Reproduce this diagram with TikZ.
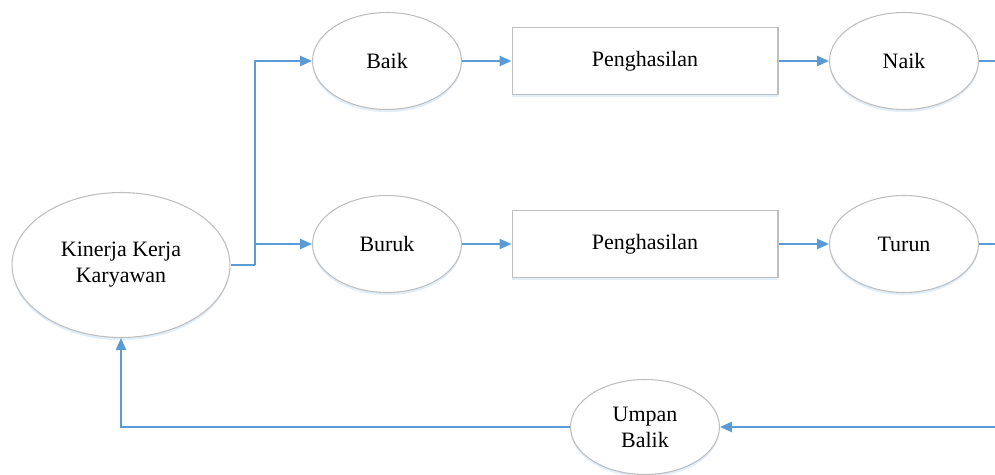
\documentclass[tikz,border=0pt]{standalone}
\usepackage{fontspec}
\setmainfont{Liberation Serif}
\usetikzlibrary{arrows.meta,shapes.geometric,shadows}
\definecolor{linkblue}{RGB}{91,155,213}
\definecolor{rimgray}{RGB}{190,190,190}

\begin{document}
\begin{tikzpicture}[x=0.02cm, y=-0.02cm,
    every node/.style={font=\fontsize{12.5}{14.8}\selectfont, align=center, inner sep=0pt},
    oval/.style={shape=ellipse, draw=rimgray, fill=white, line width=0.6pt,
        drop shadow={opacity=0.18, fill=linkblue, shadow xshift=0pt, shadow yshift=-1.5pt},
        minimum width=2.98cm, minimum height=1.94cm},
    box/.style={shape=rectangle, draw=rimgray, fill=white, line width=0.6pt,
        drop shadow={opacity=0.18, fill=linkblue, shadow xshift=0pt, shadow yshift=-1.5pt},
        minimum width=5.32cm, minimum height=1.34cm},
    link/.style={draw=linkblue, line width=1.1pt},
    arr/.style={link, -{Triangle[length=6.8pt, width=5.8pt]}}]
    \useasboundingbox (0,0) rectangle (995,475);

    \node[oval, minimum width=4.36cm, minimum height=2.9cm] (kinerja) at (121,265) {Kinerja Kerja\\Karyawan};
    \node[oval] (baik) at (387,61) {Baik};
    \node[oval] (buruk) at (387,244) {Buruk};
    \node[box] (hasil1) at (645,61) {Penghasilan};
    \node[box] (hasil2) at (645,244) {Penghasilan};
    \node[oval] (naik) at (904,61) {Naik};
    \node[oval] (turun) at (904,244) {Turun};
    \node[oval, minimum height=1.9cm] (umpan) at (645,427) {Umpan\\Balik};

    \coordinate (split) at (255,265);
    \coordinate (naikOut) at (995,61);
    \coordinate (turunOut) at (995,244);
    \coordinate (umpanIn) at (995,427);

    \draw[link] (kinerja.east) -- (split);
    \draw[arr] (split) |- (baik.west);
    \draw[arr] (split) |- (buruk.west);
    \draw[arr] (baik) -- (hasil1);
    \draw[arr] (buruk) -- (hasil2);
    \draw[arr] (hasil1) -- (naik);
    \draw[arr] (hasil2) -- (turun);
    \draw[link] (naik) -- (naikOut);
    \draw[link] (turun) -- (turunOut);
    \draw[arr] (umpanIn) -- (umpan);
    \draw[arr] (umpan.west) -| (kinerja.south);
\end{tikzpicture}
\end{document}
